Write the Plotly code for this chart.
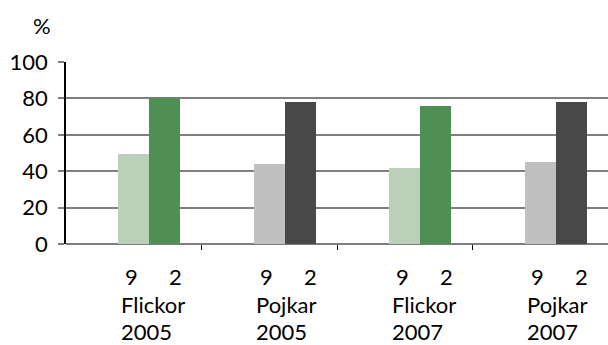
import plotly.graph_objects as go

# Data
kon = ["Flickor", "Pojkar", "Flickor", "Pojkar"]
ar = ["2005", "2005", "2007", "2007"]
klass = ["9", "2"]
arskurs9 = [49.5, 44, 42, 45]
arskurs2 = [80, 78, 76, 78]

light_cols = ["#bbd0b8", "#c0c0c0", "#bbd0b8", "#c0c0c0"]
dark_cols = ["#4f8f54", "#484848", "#4f8f54", "#484848"]

FONT = "Lato"
x = list(range(len(kon)))
bw = 0.229

fig = go.Figure()
fig.add_trace(go.Bar(x=x, y=arskurs9, width=bw, offset=-bw / 2,
                     marker=dict(color=light_cols, line_width=0), name=klass[0]))
fig.add_trace(go.Bar(x=x, y=arskurs2, width=bw, offset=bw / 2,
                     marker=dict(color=dark_cols, line_width=0), name=klass[1]))

# category labels: "9  2" / sex / year
for i in x:
    fig.add_annotation(x=i - 0.017, y=-0.176, xref="x", yref="paper", text=klass[0],
                       showarrow=False, xanchor="center", yanchor="middle")
    fig.add_annotation(x=i + 0.308, y=-0.176, xref="x", yref="paper", text=klass[1],
                       showarrow=False, xanchor="center", yanchor="middle")
    fig.add_annotation(x=i - 0.11, y=-0.335, xref="x", yref="paper", text=kon[i],
                       showarrow=False, xanchor="left", yanchor="middle")
    fig.add_annotation(x=i - 0.11, y=-0.48, xref="x", yref="paper", text=ar[i],
                       showarrow=False, xanchor="left", yanchor="middle")

fig.add_annotation(x=-0.044, y=1.198, xref="paper", yref="paper", text="%",
                   showarrow=False, xanchor="center", yanchor="middle")

fig.update_layout(
    width=608, height=345,
    margin=dict(l=66, r=0, t=62, b=101),
    paper_bgcolor="white", plot_bgcolor="white",
    showlegend=False, bargap=0,
    font=dict(family=FONT, size=22, color="black"),
    xaxis=dict(range=[-0.5, 3.5], tickvals=[0.5, 1.5, 2.5, 3.5], showticklabels=False,
               ticks="outside", ticklen=5, tickcolor="black", tickwidth=1,
               showgrid=False, zeroline=False, showline=False),
    yaxis=dict(range=[0, 100], dtick=20, showgrid=True, gridcolor="#7f7f7f", gridwidth=1.5,
               zeroline=True, zerolinecolor="#7f7f7f", zerolinewidth=1.5,
               showline=True, linecolor="black", linewidth=1.5,
               ticks="outside", ticklen=6, tickcolor="#7f7f7f", tickwidth=1.5,
               ticklabelstandoff=6),
)

fig.write_html("out.html", config={"displayModeBar": False},
               post_script="document.body.style.margin='0';")
